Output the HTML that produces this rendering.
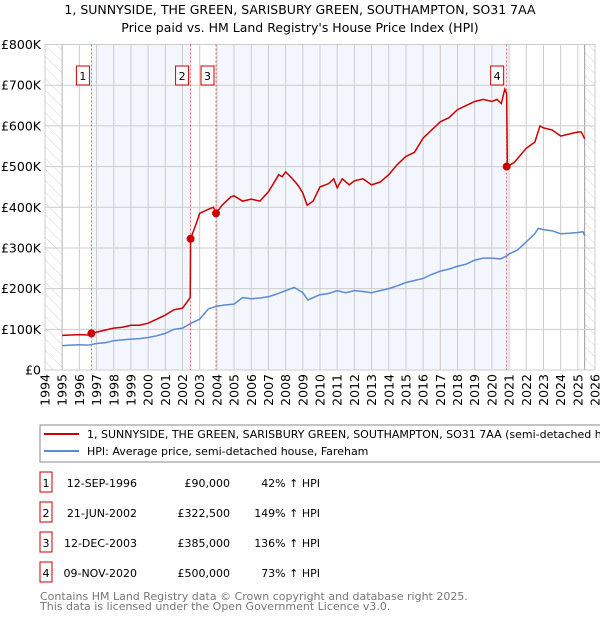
<!DOCTYPE html>
<html><head><meta charset="utf-8"><style>
body{margin:0;background:#fff;font-family:"Liberation Sans","DejaVu Sans",sans-serif}
svg text{font-family:"DejaVu Sans","Liberation Sans",sans-serif}
</style></head><body>
<svg id="c" width="600" height="620" viewBox="0 0 600 620">
<defs><pattern id="hatch" width="8" height="8" patternUnits="userSpaceOnUse" patternTransform="rotate(-45)"><line x1="0" y1="0" x2="0" y2="8" stroke="#d4d4d4" stroke-width="1"/></pattern></defs>
<text x="300" y="14" text-anchor="middle" font-size="12.5">1, SUNNYSIDE, THE GREEN, SARISBURY GREEN, SOUTHAMPTON, SO31 7AA</text>
<text x="300" y="32" text-anchor="middle" font-size="12.5">Price paid vs. HM Land Registry's House Price Index (HPI)</text>
<g id="plot"></g>
<rect x="40" y="425" width="570" height="37" fill="#fff" stroke="#888"/>
<line x1="44" y1="434" x2="79" y2="434" stroke="#cc0000" stroke-width="2"/>
<text x="87" y="438" font-size="11">1, SUNNYSIDE, THE GREEN, SARISBURY GREEN, SOUTHAMPTON, SO31 7AA (semi-detached house)</text>
<line x1="44" y1="451" x2="79" y2="451" stroke="#5b8bd0" stroke-width="2"/>
<text x="87" y="455" font-size="11">HPI: Average price, semi-detached house, Fareham</text>
<g id="table" font-size="11"></g>
<text x="40" y="600" font-size="11" fill="#777">Contains HM Land Registry data © Crown copyright and database right 2025.</text>
<text x="40" y="610" font-size="11" fill="#777">This data is licensed under the Open Government Licence v3.0.</text>
</svg>
<script>
const hpiYears=[1995,1995.5,1996,1996.5,1997,1997.5,1998,1998.5,1999,1999.5,2000,2000.5,2001,2001.5,2002,2002.5,2003,2003.5,2004,2004.5,2005,2005.5,2006,2006.5,2007,2007.5,2008,2008.5,2009,2009.3,2009.7,2010,2010.5,2011,2011.5,2012,2012.5,2013,2013.5,2014,2014.5,2015,2015.5,2016,2016.5,2017,2017.5,2018,2018.5,2019,2019.5,2020,2020.5,2020.85,2021,2021.5,2022,2022.5,2022.7,2023,2023.5,2024,2024.5,2025,2025.3,2025.4];
const hpiValues=[60,61,62,61,65,67,72,74,76,77,80,84,90,100,103,115,125,150,157,160,162,178,175,177,180,187,195,203,190,172,180,185,188,195,190,195,193,190,195,200,207,215,220,225,235,243,248,255,260,270,275,275,273,280,285,295,315,335,348,345,342,335,336,338,340,330];
const priceYears=[1995,1995.5,1996,1996.5,1996.7,1997,1997.5,1998,1998.5,1999,1999.5,2000,2000.5,2001,2001.5,2002,2002.45,2002.47,2002.8,2003,2003.5,2003.8,2003.95,2004.3,2004.8,2005,2005.5,2006,2006.5,2007,2007.6,2007.8,2008,2008.4,2008.7,2009,2009.25,2009.6,2010,2010.5,2010.8,2011,2011.3,2011.7,2012,2012.5,2013,2013.5,2014,2014.5,2015,2015.5,2016,2016.5,2017,2017.5,2018,2018.5,2019,2019.5,2020,2020.3,2020.55,2020.75,2020.86,2020.9,2021.3,2021.6,2022,2022.5,2022.8,2023,2023.5,2024,2024.5,2025,2025.2,2025.4];
const priceValues=[85,86,87,86,90,93,98,103,105,110,110,115,125,135,148,152,178,322.5,360,385,395,400,385,405,425,428,415,420,415,438,480,475,487,470,455,435,405,415,450,458,470,448,470,455,465,470,455,462,480,505,525,535,570,590,610,620,640,650,660,665,660,665,655,690,680,500,510,525,545,560,600,595,590,575,580,585,585,568];
const yTicks=[0,100,200,300,400,500,600,700,800];
const yTickLabels=["£0","£100K","£200K","£300K","£400K","£500K","£600K","£700K","£800K"];
const xTicks=[1994,1995,1996,1997,1998,1999,2000,2001,2002,2003,2004,2005,2006,2007,2008,2009,2010,2011,2012,2013,2014,2015,2016,2017,2018,2019,2020,2021,2022,2023,2024,2025,2026];
const saleIds=["1","2","3","4"];
const saleYears=[1996.70,2002.47,2003.95,2020.86];
const saleValues=[90,322.5,385,500];
const saleDates=["12-SEP-1996","21-JUN-2002","12-DEC-2003","09-NOV-2020"];
const salePrices=["£90,000","£322,500","£385,000","£500,000"];
const saleHpi=["42% ↑ HPI","149% ↑ HPI","136% ↑ HPI","73% ↑ HPI"];

const X0=45,X1=595,Y0=370,Y1=44.5;
const x=v=>X0+(v-1994)/(2026-1994)*(X1-X0);
const y=v=>Y0-v/800*(Y0-Y1);
const NS="http://www.w3.org/2000/svg";
const g=document.getElementById('plot');
function mk(t,a,p){const e=document.createElementNS(NS,t);for(const k in a)e.setAttribute(k,a[k]);(p||g).appendChild(e);return e;}
let e;
e=mk('rect',{x:X0,y:Y1,width:X1-X0,height:Y0-Y1,fill:'#fff'});


const hs=[[saleYears[0],saleYears[1]],[saleYears[2],saleYears[3]]];
hs.forEach((s,i)=>{e=mk('rect',{x:x(s[0]),y:Y1,width:x(s[1])-x(s[0]),height:Y0-Y1,fill:'#f3f6fd'});

});
e=mk('rect',{x:X0,y:Y1,width:x(1995)-X0,height:Y0-Y1,fill:'url(#hatch)'});


e=mk('rect',{x:x(2025.4),y:Y1,width:X1-x(2025.4),height:Y0-Y1,fill:'url(#hatch)'});


mk('line',{x1:x(1995),y1:Y1,x2:x(1995),y2:Y0,stroke:'#999'});
mk('line',{x1:x(2025.4),y1:Y1,x2:x(2025.4),y2:Y0,stroke:'#999'});
xTicks.forEach(t=>{e=mk('line',{x1:x(t),y1:Y1,x2:x(t),y2:Y0,stroke:'#ccc'});


e=mk('text',{x:0,y:0,transform:`translate(${x(t)+4.5},374) rotate(-90)`,'text-anchor':'end','font-size':12.5});
e.textContent=t;

});
yTicks.forEach((t,i)=>{e=mk('line',{x1:X0,y1:y(t),x2:X1,y2:y(t),stroke:'#ccc'});


e=mk('text',{x:41,y:y(t)+4.5,'text-anchor':'end','font-size':12.5});
e.textContent=yTickLabels[i];

});
mk('rect',{x:X0,y:Y1,width:X1-X0,height:Y0-Y1,fill:'none',stroke:'#ccc'});
saleYears.forEach((s,i)=>{e=mk('line',{x1:x(s),y1:Y1,x2:x(s),y2:Y0,stroke:'#e06060','stroke-dasharray':'2,2'});


e=mk('rect',{x:x(s)-15+(i==3?-1:0),y:66,width:13,height:19,fill:'#fff',stroke:'#cc0000'});


e=mk('text',{x:x(s)-8.5+(i==3?-1:0),y:80,'text-anchor':'middle','font-size':11});
e.textContent=saleIds[i];

});
e=mk('polyline',{points:hpiYears.map((t,i)=>x(t)+','+y(hpiValues[i])).join(' '),fill:'none',stroke:'#5b8bd0','stroke-width':1.5});


e=mk('polyline',{points:priceYears.map((t,i)=>x(t)+','+y(priceValues[i])).join(' '),fill:'none',stroke:'#cc0000','stroke-width':1.5});


saleYears.forEach((s,i)=>{e=mk('circle',{cx:x(s),cy:y(saleValues[i]),r:4,fill:'#cc0000'});

});
const tb=document.getElementById('table');
saleIds.forEach((id,i)=>{const cy=483+i*30;
e=mk('rect',{x:40,y:cy-11,width:12,height:20,fill:'#fff',stroke:'#cc0000'},tb);


const cols=[[46,'middle',id],[137,'end',saleDates[i]],[230,'end',salePrices[i]],[320,'end',saleHpi[i]]];
cols.forEach(c=>{e=mk('text',{x:c[0],y:cy+4,'text-anchor':c[1]},tb);e.textContent=c[2];

});});
</script>
</body></html>
